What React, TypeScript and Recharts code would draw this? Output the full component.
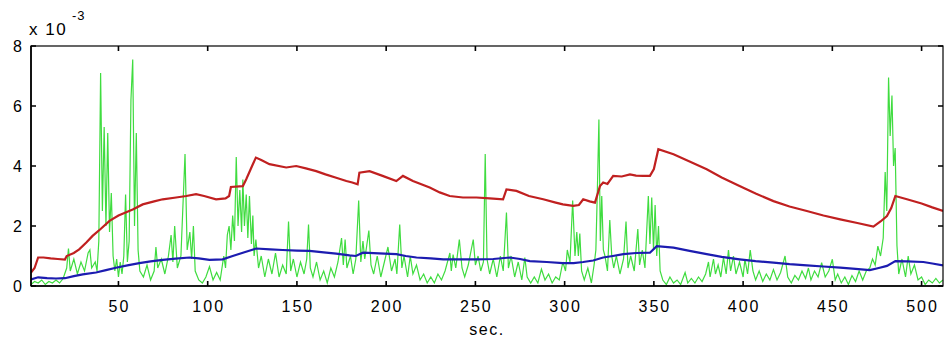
import React from 'react';
import { LineChart, Line, XAxis, YAxis } from 'recharts';

// values are in units of 10^-3
const greenPts: [number, number][] = [
  [1,0.05],[3,0.15],[5,0.1],[7,0.2],[9,0.05],[11,0.15],[13,0.1],[15,0.2],[17,0.1],[19,0.25],
  [21,0.6],[22,1.25],[23,0.5],[25,0.9],[27,0.4],[29,0.8],[31,0.5],[33,1.1],[34,1.2],[35,0.6],
  [37,0.8],[38,0.5],[39,1.5],[40,7.1],[41,2.5],[42,5.3],[43,2.0],[44,5.1],[45,1.8],[46,3.1],
  [47,1.0],[48,0.5],[49,0.9],[50,0.3],[51,0.8],[52,0.4],[53,1.0],[54,3.05],[55,0.8],[56,1.5],
  [57,6.2],[58,7.55],[59,2.0],[60,5.1],[61,1.2],[62,0.5],[64,0.3],[66,0.7],[68,0.2],[70,0.5],
  [71,1.3],[72,0.6],[74,0.9],[76,0.4],[78,1.0],[79.5,1.7],[80.5,0.8],[81.5,2.0],[83,0.6],[85,1.0],
  [87.3,4.4],[88.5,1.2],[90,1.8],[91,0.9],[92,2.0],[93,0.5],[95,0.2],[97,0.1],[99,0.3],[101,0.65],
  [103,0.2],[105,0.45],[107,0.2],[109,1.0],[110,0.6],[111,1.7],[112,2.0],[113,1.2],[114,2.35],[115,1.5],
  [116,4.3],[117,2.0],[118,3.2],[119,1.8],[119.7,3.55],[120.6,2.0],[121.6,3.05],[122.5,1.6],[123.4,3.0],[124.5,1.4],
  [125.3,2.35],[126,1.0],[127,1.55],[128.5,0.6],[130,1.0],[132,0.3],[134,0.9],[136,0.4],[138,1.1],[140,0.3],
  [142,0.7],[144,0.4],[145.3,2.15],[146.5,0.5],[148,0.9],[150,0.3],[152,0.8],[154,0.4],[155.5,0.9],[156.5,2.05],
  [157.5,0.6],[159,0.3],[161,0.8],[163,0.2],[165,0.5],[167,0.1],[169,0.6],[171,0.3],[173,0.8],[175,1.6],
  [176,0.7],[177,1.55],[178,0.6],[180,1.0],[181.5,0.4],[183,0.9],[184.6,2.85],[185.8,0.8],[187,1.5],[188,0.9],
  [189,1.3],[190.3,1.85],[191.5,0.7],[193,0.4],[195,1.0],[197,0.3],[199,0.8],[201,1.3],[203,0.5],[205,0.9],
  [206,0.4],[207.6,2.05],[208.8,0.6],[210,1.0],[212,0.3],[213.5,1.0],[215,0.4],[217,0.7],[219,0.2],[221,0.4],
  [223,0.1],[225,0.3],[227,0.1],[229,0.4],[231,0.2],[233,0.5],[235.7,1.1],[236.5,0.5],[237.5,1.05],[239,0.6],
  [241,1.55],[242.5,0.6],[244,0.3],[246,0.7],[248.8,1.55],[250,0.7],[251.5,1.0],[253,0.5],[254.5,0.8],[255.5,4.4],
  [256.5,0.9],[258,0.4],[260,0.9],[262,0.3],[264,1.0],[265.6,0.5],[267.4,2.45],[268.5,0.6],[270,1.0],[272,0.3],
  [274,0.8],[276,0.2],[277.7,0.95],[279,0.3],[281,0.1],[283,0.3],[285,0.1],[287,0.56],[289,0.2],[291,0.4],
  [293,0.1],[295,0.3],[297,0.2],[299,0.8],[300.5,0.5],[301.5,1.2],[303,0.8],[304.5,2.85],[305.8,1.0],[306.8,1.8],
  [307.7,1.0],[308.5,1.75],[309.5,0.5],[311,0.2],[313,0.6],[315,0.1],[316.5,0.7],[317.5,1.2],[318.3,3.1],[319.2,5.55],
  [320,1.5],[320.8,3.0],[321.7,1.2],[322.6,1.0],[324,0.5],[325.3,2.2],[326.4,1.0],[327.5,0.6],[329,1.0],[331,0.4],
  [333,0.9],[334.4,2.15],[335.5,0.6],[337,1.0],[339,0.5],[341,1.9],[342,0.7],[343.5,1.2],[345,0.6],[346.9,3.0],
  [347.8,1.4],[348.8,2.95],[349.8,1.2],[350.7,2.7],[351.6,1.0],[352.6,2.0],[353.5,0.5],[355,0.2],[357,0.05],[359,0.3],
  [361,0.1],[363,0.2],[365,0.05],[367.5,0.45],[369,0.1],[371,0.25],[373,0.1],[375,0.3],[377,0.15],[379,0.4],
  [380.6,0.8],[381.5,0.3],[383.4,0.9],[384.5,0.4],[386,0.7],[387.5,0.3],[389,0.95],[390.5,0.4],[391.8,1.2],[393,0.5],
  [394.6,1.0],[396,0.4],[398,0.8],[400,0.3],[401,0.9],[402.5,0.4],[404,1.2],[405.5,0.5],[407,0.2],[409,0.5],
  [411,0.15],[413,0.4],[415,0.2],[417,0.55],[419,0.2],[421,0.45],[423.5,1.0],[425,0.3],[427,0.1],[429,0.35],
  [431,0.2],[433,0.5],[435,0.25],[436.6,0.6],[438,0.2],[440,0.5],[442,0.3],[444,0.78],[446,0.3],[448,0.5],
  [450,0.89],[451.6,0.2],[453,0.4],[455,0.1],[457,0.3],[459,0.05],[461,0.35],[463,0.15],[465,0.5],[467,0.2],
  [469,0.5],[471,0.6],[472.5,0.9],[474,0.7],[475.5,1.33],[477,1.0],[478.5,1.6],[479.6,3.8],[480.5,2.5],[481.5,6.95],
  [482.4,5.0],[483.4,6.35],[484.3,4.0],[485.2,4.6],[486.2,1.35],[487.2,0.4],[489,0.9],[491,0.3],[492.5,1.0],[494,0.4],
  [496,0.7],[498,0.2],[500,0.3],[502,0.05],[504,0.2],[506,0.1],[508,0.25],[510,0.1],[512,0.2],
];

const redPts: [number, number][] = [
  [1,0.45],[3,0.6],[5,0.95],[8,0.95],[12,0.92],[16,0.9],[20,0.88],[21,1.0],[25,1.1],[28,1.22],
  [32,1.45],[35.5,1.67],[40,1.9],[45,2.17],[50,2.35],[54,2.45],[58,2.55],[63.6,2.72],[70,2.82],[74.8,2.89],
  [82.3,2.95],[88,3.0],[93.5,3.06],[98,3.0],[104.7,2.89],[110,2.92],[112,3.0],[113,3.3],[119.7,3.33],[121.6,3.56],
  [125.3,4.06],[127,4.28],[130,4.2],[134.6,4.06],[144,3.95],[149.6,4.0],[155,3.92],[160.8,3.83],[166,3.72],[172,3.61],
  [177.7,3.5],[181,3.45],[184,3.39],[185,3.78],[190.7,3.83],[198,3.67],[205.7,3.5],[209.4,3.67],[215,3.5],[224.4,3.28],
  [230,3.12],[235.6,3.0],[243,2.95],[250.6,2.95],[258,2.92],[265.5,2.89],[267.4,3.22],[273,3.17],[280,3.0],[288,2.89],
  [295,2.78],[299,2.72],[304.8,2.67],[308,2.7],[310.4,2.89],[314,2.82],[317,2.78],[319.8,3.33],[321.6,3.45],[324,3.4],
  [327.2,3.67],[332,3.65],[336.6,3.72],[340,3.68],[344,3.67],[347.8,3.67],[350,3.9],[352.5,4.56],[361,4.39],[370,4.15],
  [379.6,3.89],[388,3.62],[398,3.33],[407,3.08],[417,2.83],[426,2.65],[435.7,2.5],[445,2.35],[454.4,2.22],[464,2.1],
  [473,1.98],[477,2.15],[480.6,2.33],[483,2.6],[485.3,3.0],[491.8,2.89],[500,2.75],[506,2.62],[512,2.5],
];

const bluePts: [number, number][] = [
  [1,0.22],[5,0.29],[10,0.26],[15,0.25],[20,0.26],[25,0.33],[30,0.39],[37.4,0.45],[43,0.53],[48.6,0.61],
  [55,0.69],[61.7,0.76],[68,0.82],[74.8,0.87],[82,0.91],[89.8,0.95],[95,0.92],[101,0.87],[108.4,0.89],[114,1.0],
  [119.7,1.11],[127.2,1.25],[135,1.22],[142,1.2],[150,1.18],[157,1.17],[165,1.12],[172,1.08],[179.5,1.02],[183,1.0],
  [187,1.11],[196,1.09],[205.7,1.06],[211,1.0],[217,0.95],[225,0.92],[232,0.89],[242,0.89],[250.6,0.89],[260,0.9],
  [269.3,0.95],[275,0.9],[280.5,0.83],[290,0.8],[299,0.76],[305,0.76],[310.4,0.8],[316,0.85],[321.6,0.95],[327,1.0],
  [332.9,1.06],[340,1.1],[347.8,1.11],[351.6,1.33],[361,1.28],[370,1.17],[379.6,1.06],[388,0.97],[398,0.89],[407,0.83],
  [417,0.78],[426,0.73],[435.7,0.69],[445,0.65],[454.4,0.61],[463,0.57],[471,0.53],[476,0.6],[480.6,0.67],[485.3,0.83],
  [492,0.82],[501,0.8],[506,0.75],[512,0.69],
];

const xTicks = [50, 100, 150, 200, 250, 300, 350, 400, 450, 500];
const yTicks = [0, 2, 4, 6, 8];
const xLabel = 'sec.';

const toRows = (pts: [number, number][]) => pts.map(([t, v]) => ({ t, v }));

const FONT = '"Liberation Sans", Arial, sans-serif';
const FS = 16;
const LS = 2;
const TICK = 5;
const XM = 15;
const YM = 9;
const PLOT_W = 912;
const PLOT_H = 240;
const SW = 1.6;

const BottomTick = (p: any) => {
  const ay = p.y - XM;
  const ty = ay - PLOT_H;
  return (
    <g>
      <path d={`M${p.x},${ay}V${ay - TICK}M${p.x},${ty}V${ty + TICK}`} stroke="#000" strokeWidth={SW} fill="none" />
      <text x={p.x + LS / 2} y={p.y} dy="0.71em" textAnchor="middle" fill="#000" fontSize={FS} fontFamily={FONT} letterSpacing={LS}>
        {p.payload.value}
      </text>
    </g>
  );
};

const LeftTick = (p: any) => {
  const ax = p.x + YM;
  const rx = ax + PLOT_W;
  return (
    <g>
      <path d={`M${ax},${p.y}H${ax + TICK}M${rx},${p.y}H${rx - TICK}`} stroke="#000" strokeWidth={SW} fill="none" />
      <text x={p.x + LS} y={p.y} dy="0.355em" textAnchor="end" fill="#000" fontSize={FS} fontFamily={FONT} letterSpacing={LS}>
        {p.payload.value}
      </text>
    </g>
  );
};

// plot box used by the chart (left 31, top 46, 912 x 240)
const BOX = { x: 31, y: 46, w: PLOT_W, h: PLOT_H };

export default function App() {
  const green = toRows(greenPts);
  const red = toRows(redPts);
  const blue = toRows(bluePts);
  return (
    <div style={{ position: 'absolute', left: 0, top: 0, width: 945, height: 348, background: '#fff', fontFamily: FONT }}>
      <LineChart width={945} height={348} margin={{ top: 46, right: 2, bottom: 0, left: 0 }}>
        <XAxis
          xAxisId="b"
          type="number"
          dataKey="t"
          domain={[1, 512]}
          allowDataOverflow
          ticks={xTicks}
          height={62}
          tickSize={0}
          tickLine={false}
          tickMargin={XM}
          axisLine={{ stroke: '#000', strokeWidth: SW }}
          tick={BottomTick}
          label={{ value: xLabel, position: 'insideBottom', offset: 13, fill: '#000', fontSize: FS, fontFamily: FONT, letterSpacing: 1.5 }}
        />
        <YAxis
          yAxisId="l"
          type="number"
          domain={[0, 8]}
          allowDataOverflow
          ticks={yTicks}
          width={31}
          tickSize={0}
          tickLine={false}
          tickMargin={YM}
          axisLine={{ stroke: '#000', strokeWidth: SW }}
          tick={LeftTick}
        />
        <Line xAxisId="b" yAxisId="l" data={green} dataKey="v" type="linear" stroke="#3fdc3f" strokeWidth={1.2} dot={false} isAnimationActive={false} />
        <Line xAxisId="b" yAxisId="l" data={red} dataKey="v" type="linear" stroke="#c02020" strokeWidth={2.2} dot={false} isAnimationActive={false} />
        <Line xAxisId="b" yAxisId="l" data={blue} dataKey="v" type="linear" stroke="#1c1cb0" strokeWidth={2.2} dot={false} isAnimationActive={false} />
      </LineChart>
      <svg width={945} height={348} style={{ position: 'absolute', left: 0, top: 0, pointerEvents: 'none' }}>
        <rect x={BOX.x} y={BOX.y} width={BOX.w} height={BOX.h} stroke="#000" strokeWidth={1.2} fill="none" />
        <text x={29} y={35} fontSize={17} fontFamily={FONT} fill="#000" letterSpacing={1.5}>x 10</text>
        <text x={72} y={20} fontSize={13} fontFamily={FONT} fill="#000" letterSpacing={1}>-3</text>
      </svg>
    </div>
  );
}
